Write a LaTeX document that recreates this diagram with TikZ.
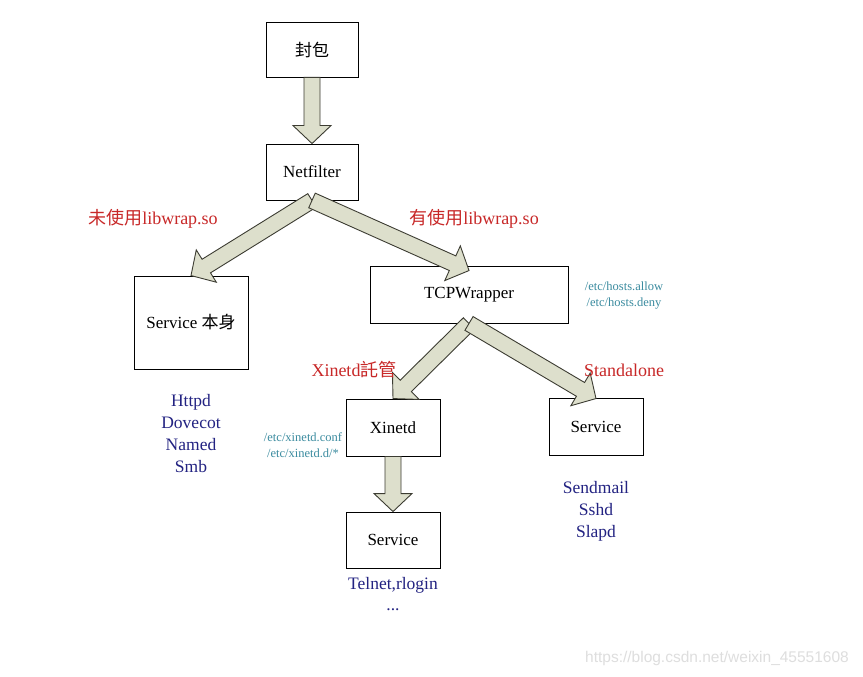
\documentclass[tikz,border=0pt]{standalone}
\usepackage{fontspec}
\setmainfont{Liberation Serif}
\newfontfamily\cjk{Noto Sans CJK TC}
\newfontfamily\wmfont{Liberation Sans}
\usetikzlibrary{calc}
\definecolor{arrfill}{RGB}{221,223,204}
\definecolor{arrdraw}{RGB}{60,60,50}
\definecolor{lblred}{RGB}{200,40,40}
\definecolor{lblblue}{RGB}{35,35,130}
\definecolor{lblteal}{RGB}{60,140,160}
\definecolor{wmgray}{RGB}{222,222,222}
\tikzset{
  box/.style={draw=black, line width=0.9pt, fill=white, inner sep=0pt, font=\fontsize{17}{20}\selectfont},
  barrow/.style={fill=arrfill, draw=arrdraw, line width=0.9pt, line join=miter},
  redlbl/.style={text=lblred, inner sep=0pt, font=\fontsize{18}{21}\selectfont},
  bluelbl/.style={text=lblblue, inner sep=0pt, align=center, font=\fontsize{17.5}{22}\selectfont},
  teallbl/.style={text=lblteal, inner sep=0pt, align=center, font=\fontsize{12.5}{15.5}\selectfont},
}
\newcommand\blockarr[2]{%
  \coordinate (bah) at ($(#2)!18pt!(#1)$);
  \draw[barrow] ($(#1)!8pt!90:(#2)$) -- ($(bah)!8pt!90:(#2)$) -- ($(bah)!19pt!90:(#2)$) -- (#2)
    -- ($(bah)!19pt!-90:(#2)$) -- ($(bah)!8pt!-90:(#2)$) -- ($(#1)!8pt!-90:(#2)$) -- cycle;
}
\begin{document}
\begin{tikzpicture}[x=1pt,y=-1pt]
\useasboundingbox[fill=white] (0,0) rectangle (863,677);
% boxes
\node[box, minimum width=92pt, minimum height=55pt] (pkt) at (312,49.5) {\cjk 封包};
\node[box, minimum width=92pt, minimum height=56pt] (net) at (312,172) {Netfilter};
\node[box, minimum width=114pt, minimum height=93pt] (svc) at (191,322.5) {Service {\cjk 本身}};
\node[box, minimum width=198pt, minimum height=57pt] (tcp) at (469,294.5) {TCPWrapper};
\node[box, minimum width=94pt, minimum height=57pt] (xin) at (393,427.5) {Xinetd};
\node[box, minimum width=94pt, minimum height=57pt] (svcr) at (596,426.5) {Service};
\node[box, minimum width=94pt, minimum height=56pt] (svcb) at (393,540) {Service};
% arrow end points
\coordinate (tcpin) at ($(tcp.north)+(0,5)$);
\coordinate (svcrin) at ($(svcr.north)+(0,1)$);
% block arrows
\blockarr{pkt.south}{net.north}
\blockarr{net.south}{svc.north}
\blockarr{net.south}{tcpin}
\blockarr{tcp.south}{xin.north}
\blockarr{tcp.south}{svcrin}
\blockarr{xin.south}{svcb.north}
% red labels
\node[redlbl] (l1) at (153,219) {{\cjk 未使用}libwrap.so};
\node[redlbl] (l2) at (474,219) {{\cjk 有使用}libwrap.so};
\node[redlbl] (l3) at (354,370) {Xinetd{\cjk 託管}};
\node[redlbl] (l4) at (624,370) {Standalone};
% teal labels
\node[teallbl] (t1) at (624,295.5) {/etc/hosts.allow\\/etc/hosts.deny};
\node[teallbl] (t2) at (303,445) {/etc/xinetd.conf\\/etc/xinetd.d/*};
% blue labels
\node[bluelbl] (b1) at (191,434) {Httpd\\Dovecot\\Named\\Smb};
\node[bluelbl] (b2) at (596,511) {Sendmail\\Sshd\\Slapd};
\node[bluelbl] (b3) at (393,585) {Telnet,rlogin};
\node[bluelbl, anchor=base] (b4) at (393,610) {...};
% watermark
\node[text=wmgray, inner sep=0pt, font=\wmfont\fontsize{15.5}{18}\selectfont] (wm) at (717,658) {https://blog.csdn.net/weixin\_45551608};
\end{tikzpicture}
\end{document}
